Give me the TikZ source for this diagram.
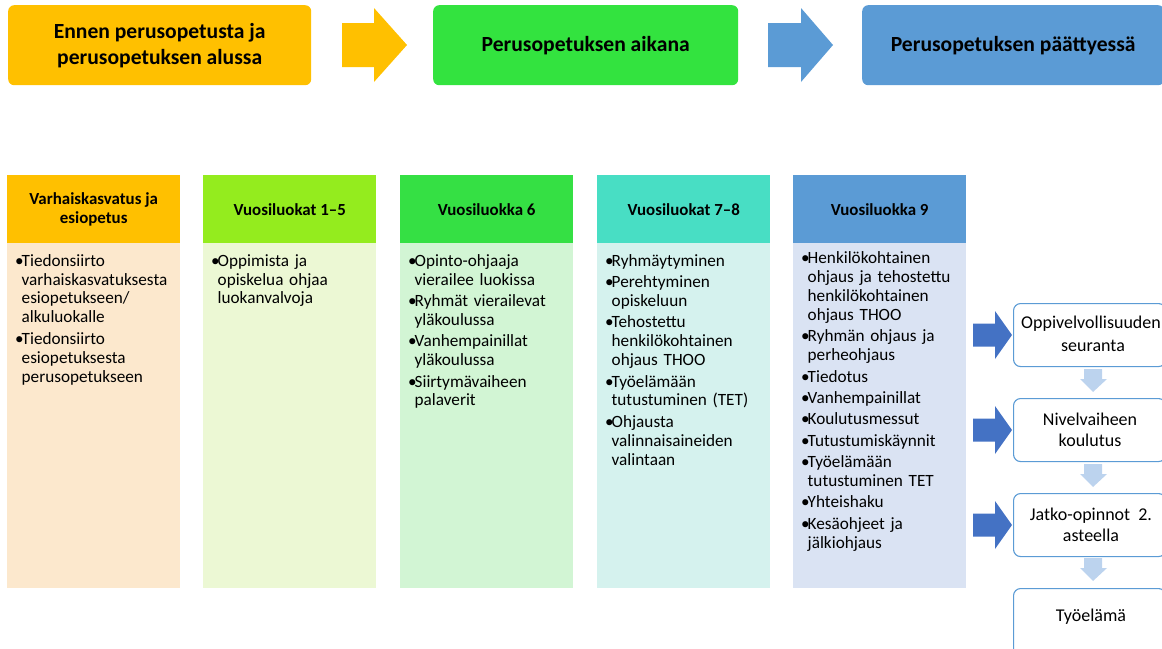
\documentclass[tikz,border=0pt]{standalone}
\usepackage{fontspec}
\setmainfont{Carlito}
\definecolor{cOrange}{HTML}{FFC000}
\definecolor{cGreen}{HTML}{33E33F}
\definecolor{cBlue}{HTML}{5B9BD5}
\definecolor{hLime}{HTML}{94EC1E}
\definecolor{hGreen}{HTML}{35E044}
\definecolor{hTeal}{HTML}{48DEC4}
\definecolor{bPeach}{HTML}{FCE8CD}
\definecolor{bLime}{HTML}{ECF8D4}
\definecolor{bGreen}{HTML}{D2F5D4}
\definecolor{bTeal}{HTML}{D5F2EE}
\definecolor{bBlue}{HTML}{DAE3F3}
\definecolor{darkArrow}{HTML}{4472C4}
\definecolor{lightArrow}{HTML}{BCD3EE}
\newcommand\bitem[1]{\par\noindent\makebox[6.5pt][l]{•}{\def\\{\par\noindent\hspace*{6.5pt}}#1}}
\newcommand\bsep{\par\vspace{2.5pt}}
\tikzset{
  banner/.style={rounded corners=6pt, minimum width=303pt, minimum height=80pt,
    font=\fontsize{21.6}{26}\selectfont\bfseries, align=center, inner sep=0pt, anchor=north west},
  hdr/.style={minimum width=173pt, minimum height=68pt, font=\fontsize{16.9}{19.5}\selectfont\bfseries,
    align=center, inner sep=0pt, anchor=north west},
  colbody/.style={minimum width=173pt, minimum height=345pt, inner sep=0pt, anchor=north west},
  coltext/.style={text width=162pt, align=left, font=\fontsize{17.2}{18.9}\selectfont,
    inner sep=0pt, anchor=north west},
  rbox/.style={draw=cBlue, line width=1.1pt, rounded corners=7pt, fill=white,
    minimum width=152pt, minimum height=63pt, inner sep=0pt, anchor=north west},
  rtext/.style={font=\fontsize{18}{21.5}\selectfont, align=center, inner sep=0pt},
}
\begin{document}
\begin{tikzpicture}[x=1pt,y=-1pt]
\useasboundingbox (0,0) rectangle (1162,648);
% top banners
\node[banner, fill=cOrange] (b1) at (8,5) {Ennen perusopetusta ja\\perusopetuksen alussa};
\node[banner, fill=cGreen, minimum width=305pt] (b2) at (433,5) {Perusopetuksen aikana};
\node[banner, fill=cBlue, minimum width=302pt] (b3) at (862,5) {Perusopetuksen päättyessä};
% banner arrows
\fill[cOrange] (342,23) -- (374,23) -- (374,8) -- (407,45) -- (374,82) -- (374,67) -- (342,67) -- cycle;
\fill[cBlue] (768,23) -- (801,23) -- (801,8) -- (833,45) -- (801,82) -- (801,67) -- (768,67) -- cycle;
% columns
\node[colbody, fill=bPeach] (c1b) at (7,243) {};
\node[hdr, fill=cOrange] (c1h) at (7,175) {Varhaiskasvatus ja\\esiopetus};
\node[colbody, fill=bLime] (c2b) at (203,243) {};
\node[hdr, fill=hLime] (c2h) at (203,175) {Vuosiluokat 1–5};
\node[colbody, fill=bGreen] (c3b) at (400,243) {};
\node[hdr, fill=hGreen] (c3h) at (400,175) {Vuosiluokka 6};
\node[colbody, fill=bTeal] (c4b) at (597,243) {};
\node[hdr, fill=hTeal] (c4h) at (597,175) {Vuosiluokat 7–8};
\node[colbody, fill=bBlue] (c5b) at (793,243) {};
\node[hdr, fill=cBlue] (c5h) at (793,175) {Vuosiluokka 9};
% column texts
\node[coltext] (t1) at (15,247) {\bitem{Tiedonsiirto\\varhaiskasvatuksesta\\esiopetukseen/\\alkuluokalle}\bsep
  \bitem{Tiedonsiirto\\esiopetuksesta\\perusopetukseen}};
\node[coltext] (t2) at (211,247) {\bitem{Oppimista ja\\opiskelua ohjaa\\luokanvalvoja}};
\node[coltext] (t3) at (408,247) {\bitem{Opinto-ohjaaja\\vierailee luokissa}\bsep
  \bitem{Ryhmät vierailevat\\yläkoulussa}\bsep
  \bitem{Vanhempainillat\\yläkoulussa}\bsep
  \bitem{Siirtymävaiheen\\palaverit}};
\node[coltext] (t4) at (605,247) {\bitem{Ryhmäytyminen}\bsep
  \bitem{Perehtyminen\\opiskeluun}\bsep
  \bitem{Tehostettu\\henkilökohtainen\\ohjaus THOO}\bsep
  \bitem{Työelämään\\tutustuminen (TET)}\bsep
  \bitem{Ohjausta\\valinnaisaineiden\\valintaan}};
\node[coltext] (t5) at (801,244.5) {\bitem{Henkilökohtainen\\ohjaus ja tehostettu\\henkilökohtainen\\ohjaus THOO}\bsep
  \bitem{Ryhmän ohjaus ja\\perheohjaus}\bsep
  \bitem{Tiedotus}\bsep
  \bitem{Vanhempainillat}\bsep
  \bitem{Koulutusmessut}\bsep
  \bitem{Tutustumiskäynnit}\bsep
  \bitem{Työelämään\\tutustuminen TET}\bsep
  \bitem{Yhteishaku}\bsep
  \bitem{Kesäohjeet ja\\jälkiohjaus}};
% right boxes
\node[rbox] (r1) at (1013,303) {};
\node[rtext, anchor=west] (r1a) at (1021,324) {Oppivelvollisuuden};
\node[rtext] (r1b) at (1093,346) {seuranta};
\node[rbox] (r2) at (1013,398) {};
\node[rtext] (r2t) at (1090,430) {Nivelvaiheen\\koulutus};
\node[rbox] (r3) at (1013,493) {};
\node[rtext] (r3t) at (1091,525) {Jatko-opinnot~~2.\\asteella};
\node[rbox, minimum height=70pt] (r4) at (1013,588) {};
\node[rtext] (r4t) at (1091,617) {Työelämä};
% dark arrows into boxes
\foreach \c in {335,430,525}{
  \fill[darkArrow] (973,\c-11.5) -- (995,\c-11.5) -- (995,\c-24) -- (1012,\c) -- (995,\c+24) -- (995,\c+11.5) -- (973,\c+11.5) -- cycle;
}
% light down arrows between boxes
\foreach \t in {369,464,558}{
  \fill[lightArrow] (1084,\t) -- (1102,\t) -- (1102,\t+10) -- (1107,\t+10) -- (1093,\t+23) -- (1080,\t+10) -- (1084,\t+10) -- cycle;
}
\end{tikzpicture}
\end{document}
